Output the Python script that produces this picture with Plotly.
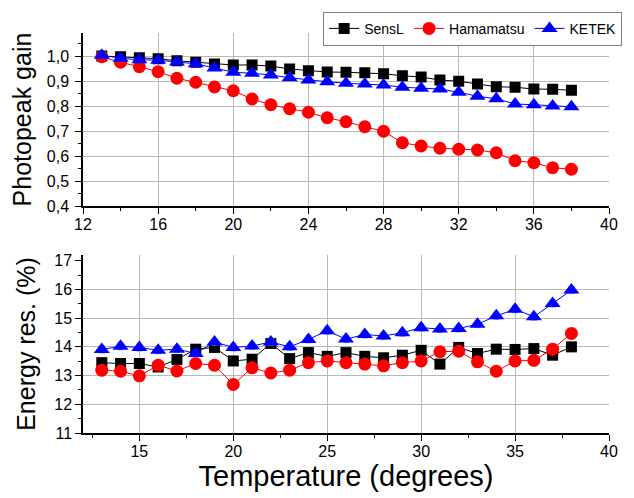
import plotly.graph_objects as go

temps = list(range(13, 39))

gain_sensl = [1.000, 0.997, 0.993, 0.989, 0.981, 0.975, 0.968, 0.964, 0.964, 0.960, 0.948, 0.941, 0.936,
              0.935, 0.933, 0.929, 0.921, 0.916, 0.904, 0.899, 0.888, 0.877, 0.875, 0.868, 0.867, 0.863]
gain_hama = [0.997, 0.975, 0.957, 0.937, 0.911, 0.895, 0.876, 0.861, 0.828, 0.805, 0.789, 0.775, 0.753,
             0.737, 0.717, 0.699, 0.653, 0.640, 0.631, 0.627, 0.624, 0.613, 0.581, 0.573, 0.553, 0.547]
gain_ketek = [1.003, 0.991, 0.985, 0.983, 0.976, 0.969, 0.952, 0.935, 0.931, 0.924, 0.913, 0.904, 0.897,
              0.891, 0.888, 0.884, 0.875, 0.871, 0.868, 0.855, 0.839, 0.829, 0.808, 0.805, 0.800, 0.797]

res_sensl = [13.45, 13.42, 13.42, 13.30, 13.56, 13.92, 13.98, 13.51, 13.57, 14.12, 13.59, 13.80, 13.67,
             13.80, 13.67, 13.62, 13.71, 13.88, 13.40, 13.98, 13.77, 13.92, 13.91, 13.94, 13.71, 14.00]
res_hama = [13.19, 13.15, 12.99, 13.36, 13.16, 13.42, 13.36, 12.69, 13.27, 13.09, 13.19, 13.45, 13.51,
            13.45, 13.40, 13.34, 13.45, 13.51, 13.83, 13.85, 13.48, 13.15, 13.51, 13.53, 13.92, 14.47]
res_ketek = [13.91, 14.02, 13.98, 13.88, 13.92, 13.77, 14.17, 13.98, 14.03, 14.17, 14.00, 14.26, 14.56,
             14.27, 14.43, 14.38, 14.49, 14.67, 14.62, 14.64, 14.79, 15.08, 15.31, 15.05, 15.51, 15.98]

err_sensl = [0.10] * 26
err_hama = [0.10] * 26
err_ketek = [0.12] * 26

top_xgrid = [16, 20, 24, 28, 32, 36]
bot_xgrid = [15, 20, 25, 30, 35]
bot_ygrid = [12, 13, 14, 15, 16]

names = ["SensL", "Hamamatsu", "KETEK"]
colors = ["black", "red", "blue"]
err_colors = ["#888888", "#ff8080", "#8080ff"]
symbols = ["square", "circle", "triangle-up"]
sizes = [11, 13, 14]

gains = [gain_sensl, gain_hama, gain_ketek]
ress = [res_sensl, res_hama, res_ketek]
errs = [err_sensl, err_hama, err_ketek]

fig = go.Figure()
# empty traces that only carry the grid overlay axes
fig.add_trace(go.Scatter(x=[], y=[], xaxis="x3", yaxis="y", showlegend=False, hoverinfo="skip"))
fig.add_trace(go.Scatter(x=[], y=[], xaxis="x4", yaxis="y2", showlegend=False, hoverinfo="skip"))
fig.add_trace(go.Scatter(x=[], y=[], xaxis="x2", yaxis="y4", showlegend=False, hoverinfo="skip"))

for i in range(3):
    fig.add_trace(go.Scatter(
        x=temps, y=gains[i], name=names[i], mode="lines+markers",
        line=dict(color=colors[i], width=1),
        marker=dict(symbol=symbols[i], size=sizes[i], color=colors[i]),
        xaxis="x", yaxis="y", showlegend=True))
for i in range(3):
    fig.add_trace(go.Scatter(
        x=temps, y=ress[i], name=names[i], mode="lines+markers",
        line=dict(color=colors[i], width=1),
        marker=dict(symbol=symbols[i], size=sizes[i], color=colors[i]),
        error_y=dict(type="data", array=errs[i], color=err_colors[i], thickness=1, width=3),
        xaxis="x2", yaxis="y2", showlegend=False))

font_fam = "Liberation Sans, Arial, sans-serif"
grid_c = "#b8b8b8"
common_ax = dict(showline=True, linecolor="black", linewidth=1.5, ticks="outside", ticklen=6,
                 tickwidth=1.2, tickcolor="black", zeroline=False,
                 tickfont=dict(size=16, color="black", family=font_fam))
grid_ax = dict(showline=False, ticks="", showticklabels=False, showgrid=True, gridcolor=grid_c,
               gridwidth=1, zeroline=False)

top_dom = [0.5675, 1]
bot_dom = [0, 0.445]
top_yr = [0.4, 1.092]
bot_yr = [11, 17.2]

fig.update_layout(
    width=634, height=498,
    margin=dict(l=83, r=22, t=33, b=65),
    plot_bgcolor="white", paper_bgcolor="white",
    separators=", ",
    font=dict(family=font_fam, color="black"),
    xaxis=dict(domain=[0, 1], anchor="y", range=[12, 40], tick0=0, dtick=4, showgrid=False,
               ticklabelstandoff=-3,
               minor=dict(dtick=2, ticks="outside", ticklen=3, tickcolor="black", showgrid=False),
               **common_ax),
    xaxis3=dict(overlaying="x", anchor="y", range=[12, 40], tickvals=top_xgrid, **grid_ax),
    yaxis=dict(domain=top_dom, anchor="x", range=top_yr, tick0=0, dtick=0.1, tickformat=".1f",
               showgrid=True, gridcolor=grid_c, gridwidth=1, ticklabelstandoff=3,
               minor=dict(dtick=0.05, ticks="outside", ticklen=3, tickcolor="black", showgrid=False),
               title=dict(text="Photopeak gain", font=dict(size=25, family=font_fam), standoff=8),
               **common_ax),
    xaxis2=dict(domain=[0, 1], anchor="y2", range=[12, 40], tick0=0, dtick=5, showgrid=False,
                ticklabelstandoff=-3,
                minor=dict(dtick=2.5, ticks="outside", ticklen=3, tickcolor="black", showgrid=False),
                title=dict(text="Temperature (degrees)", font=dict(size=29, family=font_fam), standoff=2),
                **common_ax),
    xaxis4=dict(overlaying="x2", anchor="y2", range=[12, 40], tickvals=bot_xgrid, **grid_ax),
    yaxis2=dict(domain=bot_dom, anchor="x2", range=bot_yr, tick0=0, dtick=1, showgrid=False,
                minor=dict(dtick=0.5, ticks="outside", ticklen=3, tickcolor="black", showgrid=False),
                title=dict(text="Energy res. (%)", font=dict(size=25, family=font_fam), standoff=12),
                **common_ax),
    yaxis4=dict(overlaying="y2", anchor="x2", range=bot_yr, tickvals=bot_ygrid, **grid_ax),
    legend=dict(orientation="h", x=1.025, xanchor="right", y=1.053, yanchor="top",
                bordercolor="#808080", borderwidth=1, bgcolor="white",
                font=dict(size=14, family=font_fam, color="black"),
                itemwidth=30, tracegroupgap=0),
)

fig.write_html("out.html")
